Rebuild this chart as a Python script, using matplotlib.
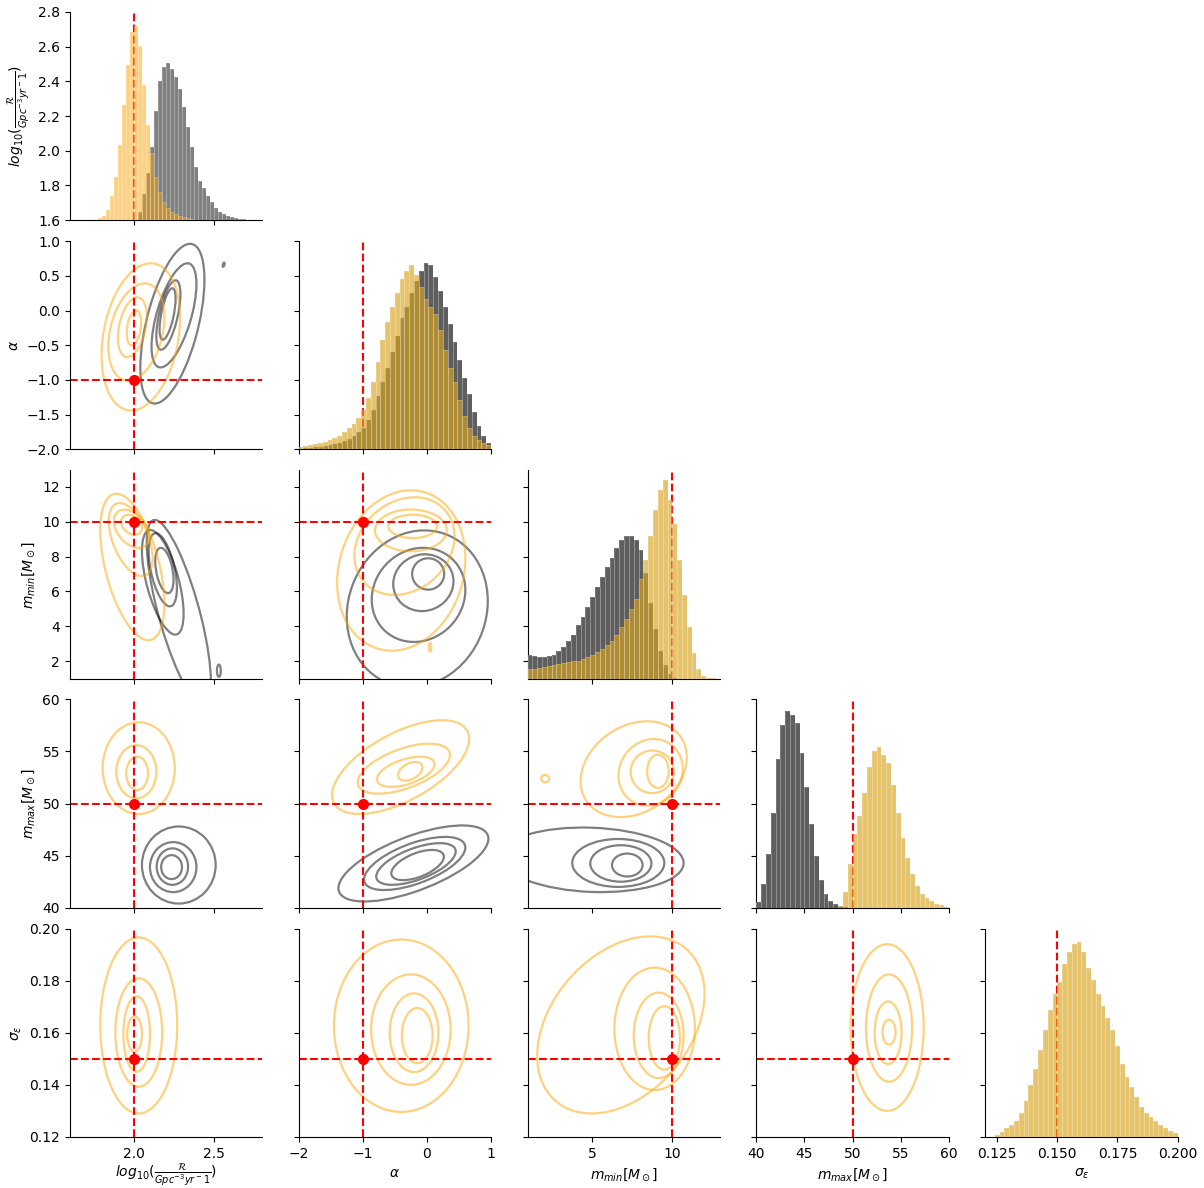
import numpy as np
import matplotlib.pyplot as plt
from matplotlib.patches import Circle
from matplotlib.transforms import Affine2D

# parameter names, injected values, axis ranges
labels = [r"$log_{10}(\frac{\mathcal{R}}{Gpc^{-3}yr^-1})$", r"$\alpha$",
          r"$m_{min}[M_\odot]$", r"$m_{max}[M_\odot]$", r"$\sigma_\epsilon$"]
truths = [2.0, -1.0, 10.0, 50.0, 0.15]
limits = [(1.6, 2.8), (-2.0, 1.0), (1.0, 12.95), (40.0, 60.0), (0.12, 0.20)]
yticks = [[1.6, 1.8, 2.0, 2.2, 2.4, 2.6, 2.8], [-2.0, -1.5, -1.0, -0.5, 0.0, 0.5, 1.0],
          [2, 4, 6, 8, 10, 12], [40, 45, 50, 55, 60], [0.12, 0.14, 0.16, 0.18, 0.20]]
xticks = [[2.0, 2.5], [-2, -1, 0, 1], [5, 10], [40, 45, 50, 55, 60],
          [0.125, 0.150, 0.175, 0.200]]

# marginal histograms (relative counts): first edge, bin width, heights
rate_grey = (2.0, 0.025, [0, .04, .13, .24, .37, .55, .70, .77, .79, .76, .72, .66, .57, .47,
                          .37, .27, .20, .16, .12, .09, .06, .04, .03, .02, .015, .01, .008,
                          .005, .003, .002, .001, .001])
rate_orange = (1.75, 0.025, [0, .01, .02, .05, .12, .22, .38, .58, .78, .95, .98, .88, .68,
                             .48, .34, .22, .14, .09, .06, .04, .03, .02, .015, .01, .005])
alpha_grey = (-2.0, 0.075, [.003, .005, .007, .01, .012, .015, .02, .025, .03, .04, .05, .07,
                            .09, .11, .15, .20, .27, .34, .41, .49, .57, .66, .72, .79, .85,
                            .90, .94, .93, .87, .80, .72, .63, .54, .45, .36, .28, .19, .12,
                            .07, .03])
alpha_orange = (-2.0, 0.075, [.01, .015, .02, .025, .03, .035, .045, .055, .07, .09, .11, .13,
                              .16, .20, .26, .34, .44, .55, .64, .72, .79, .86, .90, .93, .88,
                              .82, .76, .72, .68, .60, .50, .41, .34, .25, .17, .11, .07, .045,
                              .03, .02])
mmin_grey = (1.0, 0.3, [.12, .115, .11, .11, .115, .12, .14, .16, .19, .22, .27, .31, .36, .41,
                        .46, .51, .56, .61, .66, .70, .72, .72, .70, .65, .53, .38, .25, .14,
                        .07, .025, .005, 0, 0, 0, 0, 0, 0, 0, 0, 0])
mmin_orange = (1.0, 0.3, [.05, .05, .055, .06, .065, .07, .075, .078, .082, .087, .09, .10,
                          .11, .12, .135, .15, .17, .19, .22, .26, .30, .35, .40, .50, .60,
                          .72, .85, .95, 1.0, .90, .78, .60, .42, .26, .13, .05, .015, .004,
                          .001, 0])
mmax_grey = (40.0, 0.5, [.03, .12, .27, .48, .75, .92, .99, .97, .93, .78, .61, .42, .26, .14,
                         .07, .035, .018, .008, .003, .001])
mmax_orange = (48.5, 0.5, [.01, .08, .22, .37, .46, .58, .71, .79, .81, .77, .73, .62, .48,
                           .35, .25, .17, .11, .07, .05, .035, .02, .012, .006])
sigma_orange = (0.12, 0.002, [0, .002, .012, .025, .045, .06, .08, .12, .18, .26, .34, .44,
                              .54, .64, .72, .78, .87, .93, .97, .98, .93, .85, .79, .72, .66,
                              .60, .54, .46, .37, .30, .25, .20, .15, .12, .10, .08, .06, .045,
                              .03, .02])

# KDE contour rings: centre x, centre y, half width, half height, tilt
rate_alpha_grey = [(2.24, -0.19, 0.20, 1.15, 0.55), (2.25, -0.07, 0.14, 0.75, 0.6),
                   (2.215, -0.065, 0.075, 0.50, 0.6), (2.21, -0.05, 0.05, 0.37, 0.6),
                   (2.56, 0.66, 0.006, 0.03, 0.5)]
rate_alpha_orange = [(2.043, -0.38, 0.245, 1.06, 0.25), (2.015, -0.31, 0.175, 0.70, 0.3),
                     (1.99, -0.24, 0.09, 0.43, 0.35), (2.0, -0.25, 0.045, 0.25, 0.3)]
rate_mmin_grey = [(2.28, 4.8, 0.20, 5.3, -0.75), (2.18, 6.52, 0.13, 3.0, -0.6),
                  (2.18, 7.24, 0.088, 2.1, -0.5), (2.19, 7.2, 0.057, 1.3, -0.4),
                  (2.53, 1.45, 0.012, 0.35, 0.0)]
rate_mmin_orange = [(1.99, 7.4, 0.20, 4.2, -0.5), (1.98, 8.97, 0.137, 2.1, -0.5),
                    (1.985, 9.59, 0.11, 1.1, -0.4), (1.985, 9.82, 0.065, 0.57, -0.3)]
alpha_mmin_grey = [(-0.15, 5.0, 1.1, 4.5, 0.1), (-0.13, 5.8, 0.73, 2.7, 0.1),
                   (-0.055, 6.5, 0.47, 1.63, 0.05), (0.02, 7.0, 0.25, 0.9, 0.0)]
alpha_mmin_orange = [(-0.4, 7.2, 1.0, 4.6, 0.15), (-0.35, 8.6, 0.78, 2.8, 0.2),
                     (-0.25, 9.5, 0.56, 1.2, 0.0), (-0.22, 9.73, 0.38, 0.67, 0.0),
                     (0.05, 2.8, 0.02, 0.25, 0.0)]
rate_mmax_grey = [(2.28, 44.1, 0.23, 3.7, 0.0), (2.245, 43.9, 0.145, 2.4, 0.0),
                  (2.24, 43.95, 0.098, 1.75, 0.0), (2.235, 43.9, 0.065, 1.15, 0.0)]
rate_mmax_orange = [(2.03, 53.4, 0.225, 4.4, 0.0), (2.015, 53.05, 0.125, 2.55, 0.0),
                    (2.02, 52.9, 0.068, 1.6, 0.0)]
alpha_mmax_grey = [(-0.21, 44.25, 1.17, 3.65, 0.65), (-0.19, 44.25, 0.79, 2.55, 0.6),
                   (-0.17, 44.2, 0.62, 2.0, 0.6), (-0.145, 44.1, 0.41, 1.45, 0.55)]
alpha_mmax_orange = [(-0.41, 53.5, 1.07, 4.5, 0.6), (-0.36, 53.35, 0.72, 2.4, 0.55),
                     (-0.33, 53.05, 0.45, 1.45, 0.5), (-0.26, 53.1, 0.19, 0.9, 0.4)]
mmin_mmax_grey = [(5.0, 44.6, 5.7, 3.1, -0.1), (6.64, 44.3, 2.86, 2.3, 0.0),
                  (6.8, 44.25, 1.9, 1.75, 0.0), (7.2, 44.1, 0.95, 1.1, 0.0)]
mmin_mmax_orange = [(7.6, 53.3, 3.3, 4.6, 0.25), (8.65, 53.0, 2.0, 3.2, 0.1),
                    (8.75, 53.05, 1.34, 2.05, 0.0), (9.1, 53.1, 0.67, 1.6, 0.0),
                    (2.1, 52.4, 0.25, 0.35, 0.0)]
rate_sigma_orange = [(2.03, 0.1628, 0.24, 0.0338, 0.0), (2.03, 0.1601, 0.146, 0.0208, 0.0),
                     (2.017, 0.1595, 0.083, 0.0145, 0.0), (2.004, 0.1595, 0.046, 0.0068, 0.0)]
alpha_sigma_orange = [(-0.4, 0.1627, 1.05, 0.0331, 0.0), (-0.25, 0.1612, 0.62, 0.0212, 0.0),
                      (-0.2, 0.160, 0.38, 0.0151, 0.0), (-0.15, 0.1589, 0.24, 0.0106, 0.0)]
mmin_sigma_orange = [(6.8, 0.163, 5.2, 0.034, 0.35), (8.9, 0.1615, 2.5, 0.0235, 0.0),
                     (9.15, 0.159, 1.55, 0.0164, 0.0), (9.5, 0.158, 0.97, 0.0122, 0.0)]
mmax_sigma_orange = [(53.6, 0.162, 3.8, 0.032, 0.0), (53.8, 0.1618, 2.4, 0.0206, 0.0),
                     (53.7, 0.160, 1.4, 0.012, 0.0), (53.8, 0.1602, 0.68, 0.0048, 0.0)]

diag_hists = [[rate_grey, rate_orange], [alpha_grey, alpha_orange], [mmin_grey, mmin_orange],
              [mmax_grey, mmax_orange], [None, sigma_orange]]
pair_rings = {
    (1, 0): (rate_alpha_grey, rate_alpha_orange),
    (2, 0): (rate_mmin_grey, rate_mmin_orange),
    (2, 1): (alpha_mmin_grey, alpha_mmin_orange),
    (3, 0): (rate_mmax_grey, rate_mmax_orange),
    (3, 1): (alpha_mmax_grey, alpha_mmax_orange),
    (3, 2): (mmin_mmax_grey, mmin_mmax_orange),
    (4, 0): (None, rate_sigma_orange),
    (4, 1): (None, alpha_sigma_orange),
    (4, 2): (None, mmin_sigma_orange),
    (4, 3): (None, mmax_sigma_orange),
}


def draw_rings(ax, rings, color, alpha):
    """Draw each contour ring as a (tilted) ellipse in data units."""
    for cx, cy, rx, ry, rho in rings:
        mtx = np.array([[rx, 0.0, cx], [ry * rho, ry * np.sqrt(1 - rho ** 2), cy], [0, 0, 1]])
        ring = Circle((0, 0), 1, fill=False, ec=color, lw=1.6, alpha=alpha,
                      transform=Affine2D(mtx) + ax.transData)
        ax.add_patch(ring)


def draw_hist(ax, hist, color, alpha):
    start, width, heights = hist
    edges = start + width * np.arange(len(heights) + 1)
    ax.stairs(heights, edges, fill=True, color=color, alpha=alpha, lw=0)
    ax.bar(edges[:-1], heights, width=width, align="edge", color="none",
           edgecolor="white", linewidth=0.4, alpha=0.3)


fig = plt.figure(figsize=(12.04, 11.88), dpi=100)
gs = fig.add_gridspec(5, 5, left=0.058, right=0.978, top=0.99, bottom=0.043,
                      wspace=0.19, hspace=0.1)

for i in range(5):
    for j in range(i + 1):
        ax = fig.add_subplot(gs[i, j])
        ax.spines["top"].set_visible(False)
        ax.spines["right"].set_visible(False)
        if i == j:
            ax.axvline(truths[j], color="red", ls="--", lw=1.5)
            tw = ax.twinx()
            grey, orange = diag_hists[i]
            if i == 0:
                draw_hist(tw, grey, "#808080", 1.0)
                draw_hist(tw, orange, "orange", 0.5)
            else:
                if grey is not None:
                    draw_hist(tw, grey, "#5e5e5e", 1.0)
                draw_hist(tw, orange, "#DAA520", 0.65)
            tw.set_ylim(0, 1.05)
            tw.set_yticks([])
            for s in tw.spines.values():
                s.set_visible(False)
            tw.set_xlim(limits[j])
        else:
            grey, orange = pair_rings[(i, j)]
            if grey is not None:
                draw_rings(ax, grey, "black", 0.5)
            draw_rings(ax, orange, "orange", 0.5)
            ax.axvline(truths[j], color="red", ls="--", lw=1.5)
            ax.axhline(truths[i], color="red", ls="--", lw=1.5)
            ax.plot(truths[j], truths[i], "o", color="red", ms=7)
        ax.set_xticks(xticks[j])
        ax.set_yticks(yticks[i])
        ax.set_xlim(limits[j])
        ax.set_ylim(limits[i])
        if j == 0:
            ax.set_ylabel(labels[i], fontsize=10)
        else:
            ax.set_yticklabels([])
        if i == 4:
            ax.set_xlabel(labels[j], fontsize=10, labelpad=1 if j == 0 else 4)
        else:
            ax.set_xticklabels([])

fig.savefig("out.png", dpi=100)
